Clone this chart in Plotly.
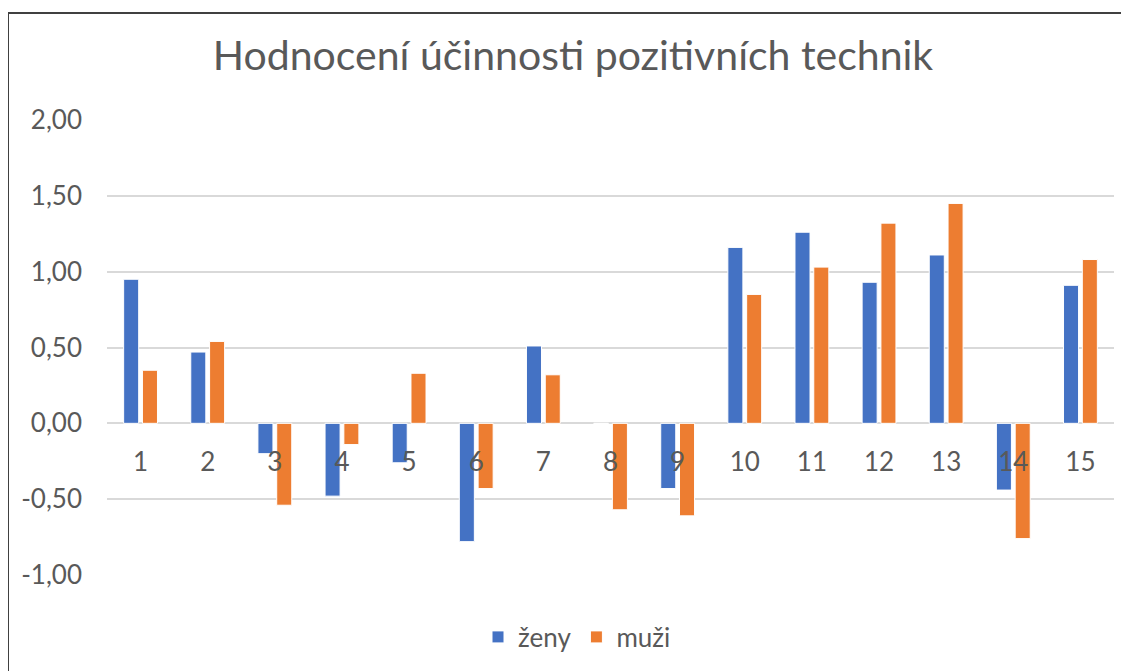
import plotly.graph_objects as go

categories = [str(i) for i in range(1, 16)]
zeny = [0.95, 0.47, -0.20, -0.48, -0.26, -0.78, 0.51, 0.00, -0.43, 1.16, 1.26, 0.93, 1.11, -0.44, 0.91]
muzi = [0.35, 0.54, -0.54, -0.14, 0.33, -0.43, 0.32, -0.57, -0.61, 0.85, 1.03, 1.32, 1.45, -0.76, 1.08]
series_names = ["ženy", "muži"]
colors = ["#4472C4", "#ED7D31"]
y_tick_vals = [-1.0, -0.5, 0.0, 0.5, 1.0, 1.5, 2.0]
y_tick_labels = ["-1,00", "-0,50", "0,00", "0,50", "1,00", "1,50", "2,00"]

# page has an 8px body margin; work in figure coordinates
OFF = 8
W, H = 1129 - OFF, 671 - OFF
ml, mr, mt, mb = 107 - OFF, 15, 120 - OFF, 671 - 575
pw = W - ml - mr
ph = H - mt - mb

FONT = "Lato"
GREY = "#595959"

fig = go.Figure()
for name, vals, col in zip(series_names, [zeny, muzi], colors):
    fig.add_trace(go.Bar(
        x=categories, y=vals, name=name,
        marker=dict(color=col, line=dict(color="white", width=1)),
    ))

def px_x(px):
    return (px - OFF - ml) / pw

def px_y(py):
    return (H - mb - (py - OFF)) / ph

fig.update_layout(
    width=W, height=H,
    margin=dict(l=ml, r=mr, t=mt, b=mb, autoexpand=False),
    paper_bgcolor="white", plot_bgcolor="white",
    barmode="group", bargap=0.44, bargroupgap=0.2,
    separators=",.",
    font=dict(family=FONT, color=GREY, size=26),
    title=dict(text="Hodnocení účinnosti pozitivních technik",
               font=dict(family=FONT, size=41, color=GREY),
               x=(573 - OFF) / W, xanchor="center", xref="container",
               y=1 - (56 - OFF) / H, yanchor="middle", yref="container"),
    legend=dict(orientation="h", x=(577 - OFF) / W, xanchor="center", xref="container",
                y=1 - (637 - OFF) / H, yanchor="middle", yref="container",
                font=dict(family=FONT, size=26, color=GREY),
                itemwidth=30, traceorder="normal"),
    showlegend=True,
    xaxis=dict(type="category", anchor="free", position=1 / 3,
               showline=False, showgrid=False, zeroline=False, automargin=False,
               ticks="", ticklen=0, ticklabelstandoff=21,
               tickfont=dict(family=FONT, size=26, color=GREY)),
    yaxis=dict(range=[-1, 2], tickmode="array", tickvals=y_tick_vals, ticktext=y_tick_labels,
               showgrid=True, gridcolor="#d9d9d9", gridwidth=2, automargin=False,
               zeroline=False, showline=False, ticks="",
               ticklabelstandoff=24,
               tickfont=dict(family=FONT, size=26, color=GREY)),
    shapes=[
        dict(type="line", xref="paper", yref="paper",
             x0=px_x(8), x1=px_x(1129), y0=px_y(13), y1=px_y(13),
             line=dict(color="#404040", width=2)),
        dict(type="line", xref="paper", yref="paper",
             x0=px_x(8), x1=px_x(8), y0=px_y(13), y1=px_y(671),
             line=dict(color="#404040", width=2)),
    ],
)

fig.write_html("out.html", config={"displayModeBar": False})
